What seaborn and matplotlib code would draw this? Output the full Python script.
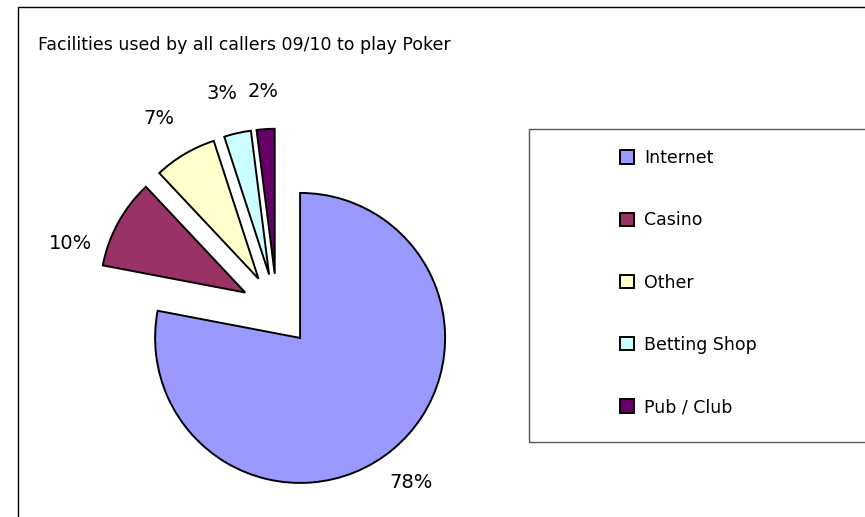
import matplotlib
matplotlib.use("Agg")
import matplotlib.pyplot as plt
from matplotlib.patches import Rectangle, Patch
import seaborn as sns

categories = ["Internet", "Casino", "Other", "Betting Shop", "Pub / Club"]
values = [78, 10, 7, 3, 2]
colors = ["#9999FF", "#993366", "#FFFFCC", "#CCFFFF", "#660066"]
title = "Facilities used by all callers 09/10 to play Poker"

sns.set_theme(style="white")
plt.rcParams["font.family"] = ["DejaVu Sans"]
plt.rcParams["text.color"] = "black"

W, H = 865, 517
R = 145
fig = plt.figure(figsize=(W / 100, H / 100), dpi=100)
ax = fig.add_axes([0, 0, 1, 1])

# outer chart border
fig.patches.append(Rectangle((18 / W, -0.1), 2, (H - 7) / H + 0.1, transform=fig.transFigure,
                             fill=False, edgecolor="black", linewidth=1.0))

wedges, texts, autotexts = ax.pie(
    values, colors=colors, startangle=90, counterclock=False,
    explode=[0.25 * R] * len(values), radius=R, center=(277, H - 310),
    autopct="%1.0f%%", pctdistance=1.26,
    wedgeprops=dict(edgecolor="black", linewidth=1.4),
    textprops=dict(fontsize=14, color="black"),
)
ax.set_xlim(0, W)
ax.set_ylim(0, H)
ax.set_aspect("equal")
ax.axis("off")

# nudge labels to match the original placement
x, y = autotexts[1].get_position()
autotexts[1].set_position((x - 15, y - 39))
x, y = autotexts[0].get_position()
autotexts[0].set_position((x - 6, y - 4))
for t in autotexts[2:4]:
    x, y = t.get_position()
    t.set_position((x - 7, y + 3))

fig.text(38 / W, 1 - 45 / H, title, fontsize=12.5, va="center", ha="left", color="black")

# legend box
fig.patches.append(Rectangle((529 / W, 1 - 442 / H), 2, (442 - 129) / H,
                             transform=fig.transFigure, fill=False,
                             edgecolor="#555555", linewidth=1.0))
handles = [Patch(facecolor=c, edgecolor="black", linewidth=1.4) for c in colors]
leg = fig.legend(handles, categories, loc="upper left",
                 bbox_to_anchor=(620 / W, 1 - 149 / H), frameon=False,
                 fontsize=12.5, handlelength=0.8, handleheight=0.8,
                 handletextpad=0.6, labelspacing=2.55, borderpad=0,
                 borderaxespad=0, labelcolor="black")

fig.savefig("out.png", dpi=100)
